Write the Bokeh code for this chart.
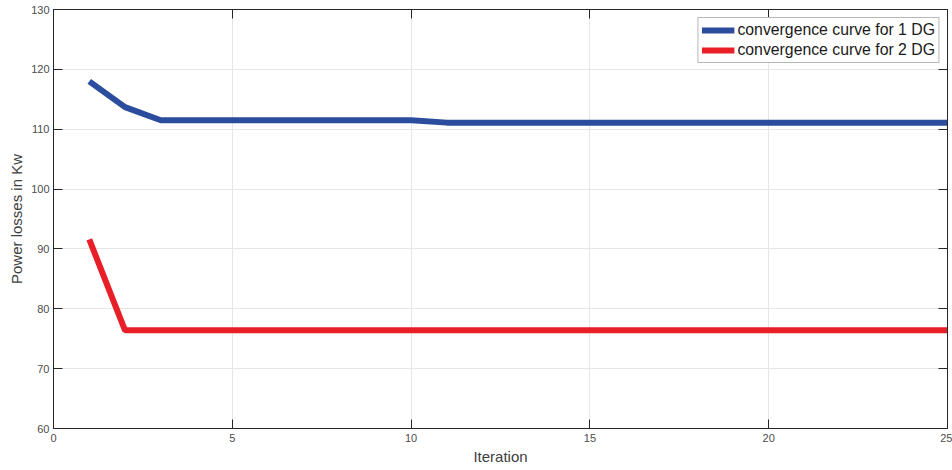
from bokeh.plotting import figure
from bokeh.models import LinearAxis, Range1d, FixedTicker, Legend, LegendItem, CustomJSTickFormatter
from bokeh.embed import file_html
from bokeh.resources import INLINE

iterations = list(range(1, 26))
loss_1dg = [118.0, 113.7, 111.5, 111.5, 111.5, 111.5, 111.5, 111.5, 111.5, 111.5,
            111.1, 111.1, 111.1, 111.1, 111.1, 111.1, 111.1, 111.1, 111.1, 111.1,
            111.1, 111.1, 111.1, 111.1, 111.1]
loss_2dg = [91.6, 76.4, 76.4, 76.4, 76.4, 76.4, 76.4, 76.4, 76.4, 76.4,
            76.4, 76.4, 76.4, 76.4, 76.4, 76.4, 76.4, 76.4, 76.4, 76.4,
            76.4, 76.4, 76.4, 76.4, 76.4]
x_ticks = [0, 5, 10, 15, 20, 25]
y_ticks = [60, 70, 80, 90, 100, 110, 120, 130]

FONT = "Liberation Sans"

p = figure(width=952, height=470, output_backend="svg", toolbar_location=None,
           x_range=Range1d(0, 25), y_range=Range1d(60, 130),
           min_border_left=53, min_border_right=5, min_border_top=9, min_border_bottom=42)
p.outline_line_color = "#262626"
p.outline_line_width = 1

def style_axis(ax, show_labels=True):
    ax.major_tick_in = 9
    ax.major_tick_out = 0
    ax.minor_tick_in = 0
    ax.minor_tick_out = 0
    ax.axis_line_color = "#262626"
    ax.major_tick_line_color = "#262626"
    ax.major_label_text_font = FONT
    ax.major_label_text_color = "#4d4d4d"
    ax.major_label_text_font_size = "11px"
    ax.major_label_standoff = 4 if show_labels else 0
    if not show_labels:
        ax.formatter = CustomJSTickFormatter(code="return ''")

p.xaxis.ticker = FixedTicker(ticks=x_ticks)
p.yaxis.ticker = FixedTicker(ticks=y_ticks)
style_axis(p.xaxis[0])
style_axis(p.yaxis[0])
p.xaxis.major_label_standoff = 5
p.xaxis.axis_label = "Iteration"
p.yaxis.axis_label = "Power losses in Kw"
for ax in (p.xaxis[0], p.yaxis[0]):
    ax.axis_label_text_font = FONT
    ax.axis_label_text_font_style = "normal"
    ax.axis_label_text_font_size = "15px"
    ax.axis_label_text_color = "#404040"
    ax.axis_label_standoff = 3

top_ax = LinearAxis(ticker=FixedTicker(ticks=x_ticks))
right_ax = LinearAxis(ticker=FixedTicker(ticks=y_ticks))
style_axis(top_ax, False)
style_axis(right_ax, False)
p.add_layout(top_ax, "above")
p.add_layout(right_ax, "right")

p.xgrid.ticker = FixedTicker(ticks=x_ticks)
p.ygrid.ticker = FixedTicker(ticks=y_ticks)
p.grid.grid_line_color = "#e6e6e6"
p.grid.grid_line_width = 1

r1 = p.line(iterations, loss_1dg, line_color="#2c4c9e", line_width=6)
r2 = p.line(iterations, loss_2dg, line_color="#e81f27", line_width=6)

legend = Legend(items=[LegendItem(label="convergence curve for 1 DG", renderers=[r1]),
                       LegendItem(label="convergence curve for 2 DG", renderers=[r2])],
                location="top_right")
legend.label_text_font = FONT
legend.label_text_font_size = "15.8px"
legend.label_text_color = "#1a1a1a"
legend.border_line_color = "#6e6e6e"
legend.border_line_width = 1
legend.glyph_width = 33
legend.glyph_height = 18
legend.label_height = 18
legend.spacing = 2
legend.padding = 3
legend.margin = 8
legend.label_standoff = 3
p.add_layout(legend)

open("out.html", "w").write(file_html(p, INLINE))
